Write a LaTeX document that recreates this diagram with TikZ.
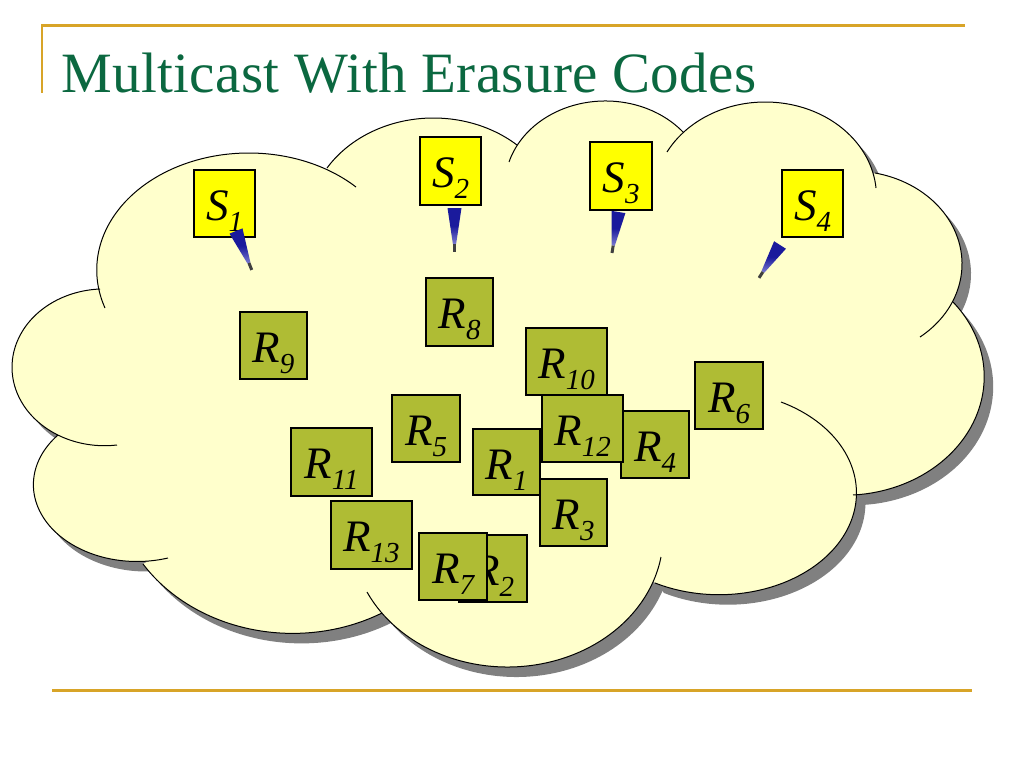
\documentclass[tikz,border=0pt]{standalone}
\usepackage{fontspec}
\setmainfont{Liberation Serif}
\newfontfamily\titlefont[LetterSpace=0.65]{Liberation Serif}
\definecolor{cloudpale}{HTML}{FFFFCC}
\definecolor{cloudshadow}{HTML}{808080}
\definecolor{rulegold}{HTML}{D8A428}
\definecolor{titlegreen}{HTML}{0B6840}
\definecolor{recvgreen}{HTML}{AFBC34}
\definecolor{sourceyellow}{HTML}{FFFF00}
\definecolor{spraydark}{HTML}{1A1A9C}
\definecolor{spraylight}{HTML}{7C7CD0}
\tikzset{
  labelbox/.style={draw=black,line width=2pt,inner sep=0pt,outer sep=0pt,
    text height=50pt,font=\fontsize{45}{45}\selectfont\itshape},
  sourcebox/.style={labelbox,fill=sourceyellow},
  recvbox/.style={labelbox,fill=recvgreen},
  goldrule/.style={draw=rulegold,line width=2.6pt},
  lobeline/.style={draw=black,line width=1pt}
}
\newcommand\subd[1]{\raisebox{-11pt}{\fontsize{29}{29}\selectfont #1}}
\newcommand\boxat[8]{%
  \node[#1,minimum width={(#5)-(#3)},text depth={(#6)-(#4)-50}] (#2)
    at ({((#3)+(#5))/2},{((#4)+(#6))/2}) {#7\subd{#8}\ifnum#8>9 \else\hspace{4pt}\fi};}
% x stretch of a lobe: each one is a circle widened by this factor
\newcommand\lobek{1.18}
% ellipse through three points: sets \lcx \lcy \lr \lstart \lend
\newcommand\calcarc[6]{%
  \edef\bx{\fpeval{((#3)-(#1))/\lobek}}\edef\by{\fpeval{(#4)-(#2)}}%
  \edef\ccx{\fpeval{((#5)-(#1))/\lobek}}\edef\ccy{\fpeval{(#6)-(#2)}}%
  \edef\dd{\fpeval{2*(\bx*\ccy-\by*\ccx)}}%
  \edef\ux{\fpeval{(\ccy*(\bx*\bx+\by*\by)-\by*(\ccx*\ccx+\ccy*\ccy))/\dd}}%
  \edef\uy{\fpeval{(\bx*(\ccx*\ccx+\ccy*\ccy)-\ccx*(\bx*\bx+\by*\by))/\dd}}%
  \edef\lr{\fpeval{round(sqrt(\ux*\ux+\uy*\uy),3)}}%
  \edef\lcx{\fpeval{round((#1)+\lobek*\ux,3)}}\edef\lcy{\fpeval{round((#2)+\uy,3)}}%
  \edef\aone{\fpeval{atand(-\uy,-\ux)}}%
  \edef\atwo{\fpeval{atand(\by-\uy,\bx-\ux)}}%
  \edef\athree{\fpeval{atand(\ccy-\uy,\ccx-\ux)}}%
  \edef\dtwo{\fpeval{(\atwo-\aone)-360*floor((\atwo-\aone)/360)}}%
  \edef\dthree{\fpeval{(\athree-\aone)-360*floor((\athree-\aone)/360)}}%
  \edef\lstart{\fpeval{round(\aone,3)}}%
  \edef\lend{\fpeval{round(\dtwo<\dthree ? \aone+\dthree : \aone+\dthree-360,3)}}%
}
\newcommand\lobepath{plot[domain=\lstart:\lend,samples=60,variable=\t,smooth]
  ({\lcx+\lobek*\lr*cos(\t)},{\lcy+\lr*sin(\t)})}
% every lobe of the cloud, handed to the macro #1: start, middle, end
\newcommand\alllobes[1]{%
  #1{100}{289}{12}{367}{117}{445}%
  \def\lobek{1.35}#1{58}{435}{45}{520}{168}{558}\def\lobek{1.18}%
  #1{143}{564}{280}{633}{382}{613}%
  #1{661}{557}{510}{667}{367}{592}%
  \def\lobek{1.35}#1{781}{402}{847}{530}{655}{583}\def\lobek{1.18}%
  #1{953}{302}{984}{383}{853}{495}%
  #1{875}{173}{962}{263}{920}{337}%
  #1{667}{152}{765}{102}{876}{188}%
  #1{509}{162}{603}{101}{683}{132}%
  #1{327}{168}{433}{118}{517}{145}%
  \def\lobek{1.3}#1{105}{308}{250}{153}{356}{187}\def\lobek{1.18}%
}
\newcommand\lobeshadow[6]{\calcarc{#1}{#2}{#3}{#4}{#5}{#6}%
  \fill[cloudshadow,shift={(9,10)}] \lobepath -- (500,380) -- cycle;}
\newcommand\lobefill[6]{\calcarc{#1}{#2}{#3}{#4}{#5}{#6}%
  \fill[cloudpale] \lobepath -- (500,380) -- cycle;}
\newcommand\lobestroke[6]{\calcarc{#1}{#2}{#3}{#4}{#5}{#6}%
  \draw[lobeline] \lobepath;}
\newcommand\spray[4]{% head x, head y, angle, length
  \begin{scope}[shift={(#1,#2)},rotate=#3]
    \shade[top color=spraydark,bottom color=spraylight,middle color=spraydark]
      (-7,0) -- (7,0) -- (1.6,{0.82*(#4)}) -- (-1.6,{0.82*(#4)}) -- cycle;
    \fill[black!75] (-1.5,{0.82*(#4)}) rectangle (1.5,#4);
  \end{scope}}
\begin{document}
\begin{tikzpicture}[x=1pt,y=-1pt]
\useasboundingbox (0,0) rectangle (1024,768);
% frame rules
\draw[goldrule] (965,25.5) -- (42,25.5) -- (42,93);
\draw[goldrule] (52,690.5) -- (972,690.5);
% title
\node[anchor=base west,inner sep=0pt,text=titlegreen,font=\titlefont\fontsize{57}{57}\selectfont] (title) at (61,92) {Multicast With Erasure Codes};
% cloud
\alllobes{\lobeshadow}
\alllobes{\lobefill}
\fill[cloudpale] (120,300)--(200,200)--(500,170)--(850,200)--(930,320)--(830,480)--(650,560)--(400,590)--(170,540)--(80,440)--cycle;
\alllobes{\lobestroke}
% sources
\boxat{sourcebox}{s1}{194}{170}{255}{237}{S}{1}
\boxat{sourcebox}{s2}{420}{137}{481}{205}{S}{2}
\boxat{sourcebox}{s3}{590}{142}{652}{210}{S}{3}
\boxat{sourcebox}{s4}{782}{170}{843}{237}{S}{4}
% receivers, in stacking order
\boxat{recvbox}{r1}{473}{429}{540}{495}{R}{1}
\boxat{recvbox}{r2}{459}{535}{527}{602}{R}{2}
\boxat{recvbox}{r3}{540}{479}{607}{546}{R}{3}
\boxat{recvbox}{r4}{621}{411}{689}{478}{R}{4}
\boxat{recvbox}{r5}{392}{395}{460}{462}{R}{5}
\boxat{recvbox}{r6}{695}{362}{763}{429}{R}{6}
\boxat{recvbox}{r7}{419}{533}{487}{600}{R}{7}
\boxat{recvbox}{r8}{426}{278}{493}{346}{R}{8}
\boxat{recvbox}{r9}{240}{312}{307}{379}{R}{9}
\boxat{recvbox}{r10}{526}{328}{607}{395}{R}{10}
\boxat{recvbox}{r11}{291}{428}{372}{496}{R}{11}
\boxat{recvbox}{r12}{542}{395}{623}{462}{R}{12}
\boxat{recvbox}{r13}{331}{501}{412}{569}{R}{13}
% sprays
\spray{236}{231}{22}{42}
\spray{454.5}{208}{0}{44}
\spray{618.5}{212}{-9}{41.5}
\spray{780}{245}{-32.5}{39}
\end{tikzpicture}
\end{document}
